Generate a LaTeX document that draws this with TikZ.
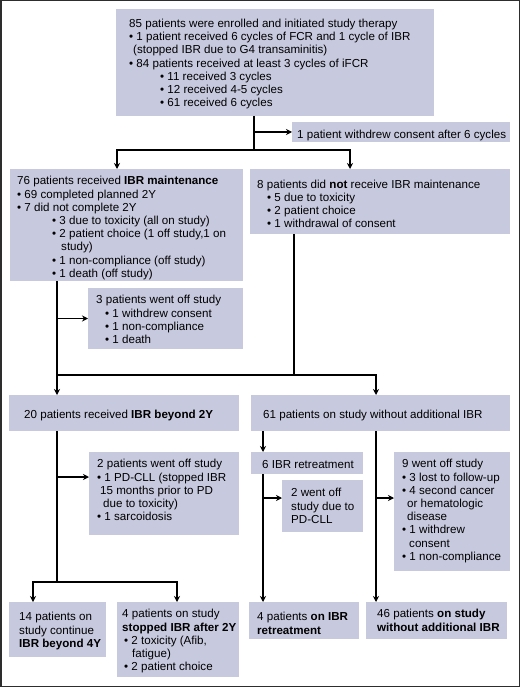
\documentclass[tikz,border=0pt]{standalone}
\usepackage{fontspec}
\setmainfont{Liberation Sans}
\usetikzlibrary{arrows.meta,calc}
\definecolor{boxc}{RGB}{199,201,222}
\definecolor{framec}{RGB}{45,45,45}
\newcommand{\bl}{•\ }
\newcommand{\ind}[1]{\hspace*{#1pt}}
\begin{document}
\begin{tikzpicture}[x=1pt,y=-1pt,
  box/.style={fill=boxc, draw=none, anchor=north west, inner sep=0pt, outer sep=0pt},
  txt/.style={anchor=north west, inner sep=0pt, align=left, yshift=-2pt,
    font=\fontsize{11.6}{13.2}\selectfont, execute at begin node=\strut},
  ln/.style={line width=1.3pt, black},
  arr/.style={-{Stealth[length=6pt,width=6pt]}},
  barr/.style={{Stealth[length=6pt,width=6pt]}-{Stealth[length=6pt,width=6pt]}}]
\useasboundingbox (0,0) rectangle (520,687);
\draw[framec, line width=1.5pt] (0.75,0.75) rectangle (519.25,686.25);
% boxes
\node[box, minimum width=318pt, minimum height=107pt] (top) at (116,9) {};
\node[box, minimum width=218pt, minimum height=20pt] (withdrew) at (292,122) {};
\node[box, minimum width=233pt, minimum height=112pt] (maint) at (10,169) {};
\node[box, minimum width=260pt, minimum height=65pt] (notm) at (250,169) {};
\node[box, minimum width=155pt, minimum height=61pt] (off3) at (88,288) {};
\node[box, minimum width=230pt, minimum height=36pt] (twenty) at (9,395) {};
\node[box, minimum width=259pt, minimum height=36pt] (sixtyone) at (251,395) {};
\node[box, minimum width=150pt, minimum height=83pt] (off2) at (89,452) {};
\node[box, minimum width=112pt, minimum height=22pt] (retr) at (251,452) {};
\node[box, minimum width=81pt, minimum height=52pt] (went2) at (282,480) {};
\node[box, minimum width=116pt, minimum height=119pt] (off9) at (394,452) {};
\node[box, minimum width=97pt, minimum height=55pt] (fourteen) at (9,602) {};
\node[box, minimum width=122pt, minimum height=75pt] (stopped) at (117,602) {};
\node[box, minimum width=110pt, minimum height=37pt] (retr4) at (249,602) {};
\node[box, minimum width=141pt, minimum height=37pt] (fortysix) at (366,602) {};
% texts
\node[txt] (top-t) at (129,16.8) {85 patients were enrolled and initiated study therapy\\
\bl 1 patient received 6 cycles of FCR and 1 cycle of IBR\\
\ind{4}(stopped IBR due to G4 transaminitis)\\
\bl 84 patients received at least 3 cycles of iFCR\\
\ind{31}\bl 11 received 3 cycles\\
\ind{31}\bl 12 received 4-5 cycles\\
\ind{31}\bl 61 received 6 cycles};
\node[txt] (withdrew-t) at (297,127.3) {1 patient withdrew consent after 6 cycles};
\node[txt] (maint-t) at (17,174.3) {76 patients received \textbf{IBR maintenance}\\
\bl 69 completed planned 2Y\\
\bl 7 did not complete 2Y\\
\ind{35}\bl 3 due to toxicity (all on study)\\
\ind{35}\bl 2 patient choice (1 off study,1 on\\
\ind{44}study)\\
\ind{35}\bl 1 non-compliance (off study)\\
\ind{35}\bl 1 death (off study)};
\node[txt] (notm-t) at (257,177.5) {8 patients did \textbf{not} receive IBR maintenance\\
\ind{10}\bl 5 due to toxicity\\
\ind{10}\bl 2 patient choice\\
\ind{10}\bl 1 withdrawal of consent};
\node[txt] (off3-t) at (96,293.3) {3 patients went off study\\
\ind{9}\bl 1 withdrew consent\\
\ind{9}\bl 1 non-compliance\\
\ind{9}\bl 1 death};
\node[txt] (twenty-t) at (24,407.3) {20 patients received \textbf{IBR beyond 2Y}};
\node[txt] (sixtyone-t) at (263,407.3) {61 patients on study without additional IBR};
\node[txt] (off2-t) at (97,457.3) {2 patients went off study\\
\bl 1 PD-CLL (stopped IBR\\
\ind{3}15 months prior to PD\\
\ind{6}due to toxicity)\\
\bl 1 sarcoidosis};
\node[txt] (retr-t) at (262,457.3) {6 IBR retreatment};
\node[txt] (went2-t) at (291,486.3) {2 went off\\study due to\\PD-CLL};
\node[txt] (off9-t) at (402,457.3) {9 went off study\\
\bl 3 lost to follow-up\\
\bl 4 second cancer\\
\ind{5}or hematologic\\
\ind{5}disease\\
\bl 1 withdrew\\
\ind{7}consent\\
\bl 1 non-compliance};
\node[txt] (fourteen-t) at (19,610.3) {14 patients on\\study continue\\\textbf{IBR beyond 4Y}};
\node[txt] (stopped-t) at (122,607.3) {4 patients on study\\
\textbf{stopped IBR after 2Y}\\
\ind{2}\bl 2 toxicity (Afib,\\
\ind{10}fatigue)\\
\ind{2}\bl 2 patient choice};
\node[txt] (retr4-t) at (257,610.3) {4 patients \textbf{on IBR}\\\textbf{retreatment}};
\node[txt] (fortysix-t) at (377,607.3) {46 patients \textbf{on study}\\\textbf{without additional IBR}};
% junctions
\coordinate (j1) at (254,150);
\coordinate (jL) at (117,150);
\coordinate (jR) at (350,150);
\coordinate (bA) at (57,375);
\coordinate (bM) at (294,375);
\coordinate (bB) at (376,375);
\coordinate (cA) at (57,582);
\coordinate (cL) at (33,582);
\coordinate (cR) at (177,582);
\coordinate (x1) at (263,0);
\coordinate (x2) at (376,0);
% connectors
\draw[ln] (top.south -| j1) -- (j1);
\draw[ln,arr] (withdrew.west -| j1) -- (withdrew.west);
\draw[ln,barr] (jL |- maint.north) -- (jL) -- (jR) -- (jR |- notm.north);
\draw[ln] (maint.south -| bA) -- (bA);
\draw[ln] (notm.south -| bM) -- (bM);
\draw[ln,barr] (bA |- twenty.north) -- (bA) -- (bB) -- (bB |- sixtyone.north);
\draw[ln,arr] (off3.west -| bA) -- (off3.west);
\draw[ln] (twenty.south -| cA) -- (cA);
\draw[ln,barr] (cL |- fourteen.north) -- (cL) -- (cR) -- (cR |- stopped.north);
\draw[ln,arr] ([yshift=-25pt]off2.north west -| cA) -- ([yshift=-25pt]off2.north west);
\draw[ln,arr] (sixtyone.south -| x1) -- (retr.north -| x1);
\draw[ln,arr] (sixtyone.south -| x2) -- (fortysix.north -| x2);
\draw[ln,arr] ([yshift=-46pt]off9.north west -| x2) -- ([yshift=-46pt]off9.north west);
\draw[ln,arr] (retr.south -| x1) -- (retr4.north -| x1);
\draw[ln,arr] ([yshift=-18pt]went2.north west -| x1) -- ([yshift=-18pt]went2.north west);
\end{tikzpicture}
\end{document}
